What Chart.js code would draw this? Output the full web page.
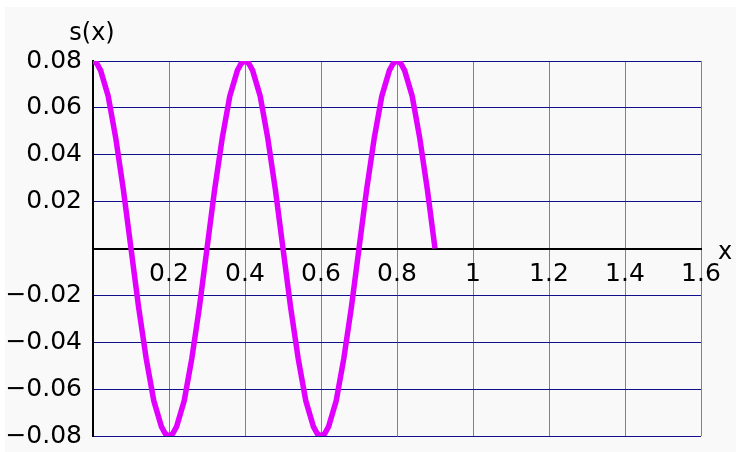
<!DOCTYPE html>
<html>
<head>
<meta charset="utf-8">
<script src="https://cdn.jsdelivr.net/npm/chart.js@4"></script>
<style>
  body { margin: 0; background: #fff; }
  canvas { display: block; }
</style>
</head>
<body>
<canvas id="chart" width="736" height="452"></canvas>
<script>
// sample points
const xs = [0, 0.01, 0.02, 0.04, 0.06, 0.08, 0.10, 0.12, 0.14, 0.16, 0.18, 0.19, 0.20, 0.21, 0.22,
    0.24, 0.26, 0.28, 0.30, 0.32, 0.34, 0.36, 0.38, 0.39, 0.40, 0.41, 0.42, 0.44, 0.46, 0.48, 0.50,
    0.52, 0.54, 0.56, 0.58, 0.59, 0.60, 0.61, 0.62, 0.64, 0.66, 0.68, 0.70, 0.72, 0.74, 0.76, 0.78,
    0.79, 0.80, 0.81, 0.82, 0.84, 0.86, 0.88, 0.90]
const sx = [0.080, 0.079, 0.076, 0.065, 0.047, 0.025, 0, -0.025, -0.047, -0.065, -0.076, -0.079, -0.080, -0.079, -0.076,
    -0.065, -0.047, -0.025, 0, 0.025, 0.047, 0.065, 0.076, 0.079, 0.080, 0.079, 0.076, 0.065, 0.047, 0.025, 0,
    -0.025, -0.047, -0.065, -0.076, -0.079, -0.080, -0.079, -0.076, -0.065, -0.047, -0.025, 0, 0.025, 0.047, 0.065, 0.076,
    0.079, 0.080, 0.079, 0.076, 0.065, 0.047, 0.025, 0]

const xTickLabels = ['', '0.2', '0.4', '0.6', '0.8', '1', '1.2', '1.4', '1.6']
const yTickLabels = ['\u22120.08', '\u22120.06', '\u22120.04', '\u22120.02', '', '0.02', '0.04', '0.06', '0.08']

const FONT = 'DejaVu Sans'

const extras = {
    id: 'extras',
    beforeDraw(chart) {
        const c = chart.ctx
        c.save()
        c.fillStyle = '#f9f9f9'
        c.fillRect(5, 7, chart.width - 5, chart.height - 7)
        c.restore()
    },
    afterDraw(chart) {
        const c = chart.ctx
        const a = chart.chartArea
        const y0 = chart.scales.y.getPixelForValue(0)
        c.save()
        c.fillStyle = '#000'
        c.font = '24px "' + FONT + '"'
        c.textAlign = 'center'
        c.textBaseline = 'alphabetic'
        c.fillText('s(x)', a.left - 1, 40)
        c.fillText('x', a.right + 24, y0 + 10)
        c.restore()
    }
}

function noPad(s) {
    s.paddingTop = 0
    s.paddingBottom = 0
    s.paddingLeft = 0
    s.paddingRight = 0
}

const ctx = document.getElementById('chart').getContext('2d')
const myChart = new Chart(ctx, {
    type: 'line',
    data: {
        datasets: [{
            data: xs.map((x, i) => ({ x: x, y: sx[i] })),
            borderColor: '#e100ff',
            borderWidth: 5.5,
            pointRadius: 0,
            tension: 0,
            fill: false
        }]
    },
    options: {
        responsive: false,
        animation: false,
        layout: { padding: { left: 0, top: 61, right: 35, bottom: 16 } },
        plugins: { legend: { display: false }, tooltip: { enabled: false } },
        scales: {
            x: {
                type: 'linear',
                position: { y: 0 },
                min: 0,
                max: 1.6,
                afterBuildTicks: s => { s.ticks = xTickLabels.map((t, i) => ({ value: i * 0.2 })) },
                afterFit: s => { s.height = 0; noPad(s) },
                ticks: {
                    autoSkip: false,
                    maxRotation: 0,
                    padding: 11,
                    color: '#000',
                    font: { family: FONT, size: 25 },
                    callback: (v, i) => xTickLabels[i]
                },
                grid: { color: '#7a7ac4', lineWidth: 1, drawTicks: false },
                border: { color: '#000', width: 2 }
            },
            y: {
                type: 'linear',
                min: -0.08,
                max: 0.08,
                afterBuildTicks: s => { s.ticks = yTickLabels.map((t, i) => ({ value: -0.08 + i * 0.02 })) },
                afterFit: s => { s.width = 93; noPad(s) },
                ticks: {
                    autoSkip: false,
                    padding: 11,
                    color: '#000',
                    font: { family: FONT, size: 25 },
                    callback: (v, i) => yTickLabels[i]
                },
                grid: { color: '#10108c', lineWidth: 1, drawTicks: false },
                border: { color: '#000', width: 2 }
            }
        }
    },
    plugins: [extras]
})
</script>
</body>
</html>
